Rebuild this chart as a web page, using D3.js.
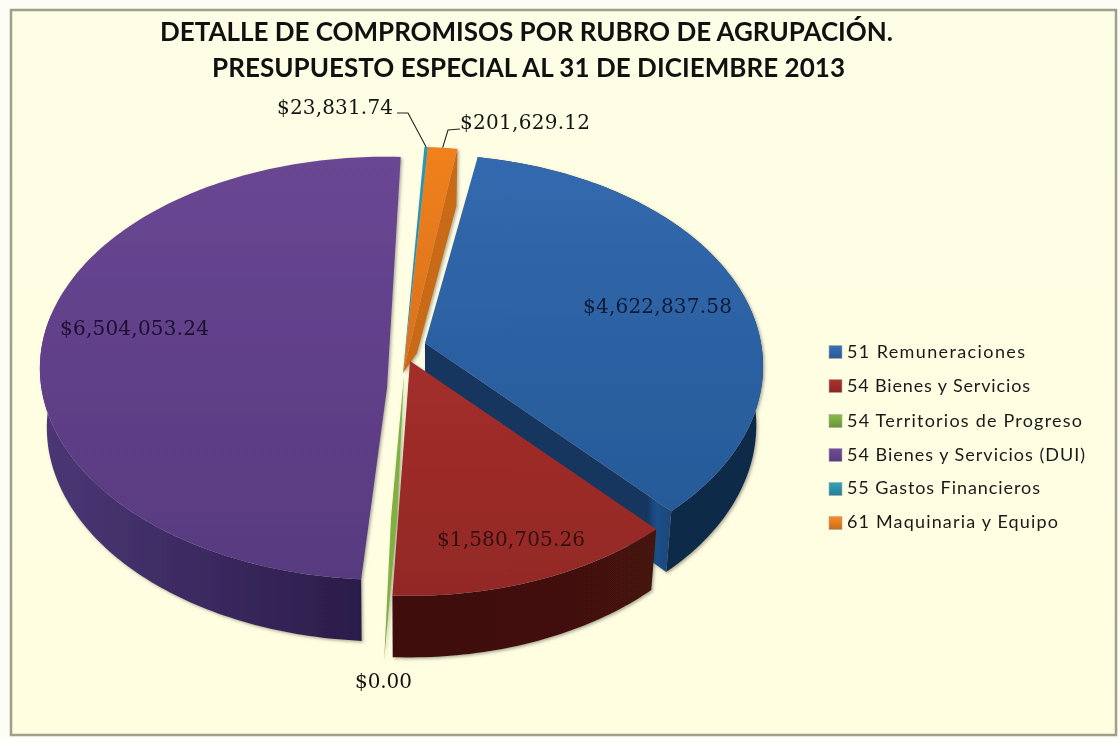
<!DOCTYPE html>
<html><head><meta charset="utf-8">
<script src="https://cdn.jsdelivr.net/npm/d3@7/dist/d3.min.js"></script>
<style>
html,body{margin:0;padding:0;background:#fff;overflow:hidden}
svg{display:block;filter:blur(0.35px)}
</style></head><body><svg id="c" width="1120" height="739"></svg>
<script>
// ---- data ----
const categories = ["51 Remuneraciones","54 Bienes y Servicios","54 Territorios de Progreso","54 Bienes y Servicios (DUI)","55 Gastos Financieros","61 Maquinaria y Equipo"];
const values = [4622837.58,1580705.26,0,6504053.24,23831.74,201629.12];
const titleLines = ["DETALLE DE COMPROMISOS POR RUBRO DE AGRUPACIÓN.","PRESUPUESTO ESPECIAL AL 31 DE DICIEMBRE 2013"];

// ---- style / layout ----
const topColors  = [["#3269ae","#265a98"],["#a32e2a","#932825"],["#7fb040","#6f9c36"],["#6a4693","#573a7f"],["#2f98b0","#27879e"],["#f0811f","#d9701a"]];
const wallColors = [["#12294a","#10294a"],["#3f0f0c","#45120e"],["#6f9c36","#6f9c36"],["#4c3776","#2b1c4a"],["#1f6f80","#1f6f80"],["#c96a14","#c96a14"]];
const apexTop = [[425,343],[410,361],[395,364],[386,345],[410,335],[410,335]]; // centre of the perspective disc per exploded slice
const radiusX = [336,336,336,344,336,336];
const nudgeStart = [1,0,0,2,0,0], nudgeEnd = [0,1,0,0,0,0]; // perspective fudge, degrees
const labelBox = [[583,732,313],[437,585,546],[355,412,688],[60,209,335],[277,393,114],[460,590,129]];
const labelFill = ["#0e1c38","#341010","#111","#1a1030","#151515","#151515"];
const legendWidth = [178,183,235,238,193,211];
const legendBase = [358,392,427,461,494,528];
const legendMid = [352,386,421,455,489,523];
const k=0.11, Ry=209, H=59, shrink=0.98, deg=Math.PI/180;

const svg=d3.select("#c");
const defs=svg.append("defs");
const sh=defs.append("filter").attr("id","sh").attr("x","-10%").attr("y","-10%").attr("width","120%").attr("height","120%");
sh.append("feDropShadow").attr("dx",1.5).attr("dy",1.5).attr("stdDeviation",1.5).attr("flood-color","#6b6b5a").attr("flood-opacity",0.55);

function grad(id,c0,c1,horizontal,stops){
  const g=defs.append("linearGradient").attr("id",id).attr("x1",0).attr("y1",0).attr("x2",horizontal?1:0).attr("y2",horizontal?0:1);
  (stops||[[0,c0],[1,c1]]).forEach(s=>g.append("stop").attr("offset",s[0]).attr("stop-color",s[1]));
  return `url(#${id})`;
}

// background frame
svg.append("rect").attr("width",1120).attr("height",739).attr("fill","#fdfdf6");
svg.append("rect").attr("x",11).attr("y",10).attr("width",1105).attr("height",725)
  .attr("fill",grad("bg","#fefee6","#fffee0")).attr("stroke","#a0a08a").attr("stroke-width",2.5);

// title
const titleBox=[[160,733,41],[212,633,77]];
svg.selectAll("text.t").data(titleLines).join("text").attr("class","t")
  .attr("x",(d,i)=>titleBox[i][0]).attr("y",(d,i)=>titleBox[i][2])
  .attr("textLength",(d,i)=>titleBox[i][1]).attr("lengthAdjust","spacing")
  .attr("font-family","Lato, 'Open Sans', sans-serif").attr("font-size",26).attr("font-weight",700)
  .attr("fill","#111").text(d=>d);

// pie
const pie=d3.pie().sort(null).startAngle(9*deg).endAngle(369*deg);
const arcs=pie(values);
function P(i,a,level){
  const [tx,ty]=apexTop[i];
  const s=1/(1+k*Math.cos(a)), sc=level?shrink:1;
  return [tx+sc*radiusX[i]*Math.sin(a)*s, ty-sc*Ry*Math.cos(a)*s+(level?H*s:0)];
}
function arcPts(i,a0,a1,level){
  const n=Math.max(1,Math.ceil(Math.abs(a1-a0)/deg));
  return d3.range(n+1).map(j=>P(i,a0+(a1-a0)*j/n,level));
}
const line=d3.line();
const slice=svg.append("g").attr("filter","url(#sh)");

function drawSlice(i){
  const d=arcs[i], a0=d.startAngle+nudgeStart[i]*deg, a1=d.endAngle+nudgeEnd[i]*deg;
  const gg=slice.append("g");
  const top=arcPts(i,a0,a1,0);
  const wallEnd=i===3?a0+95*deg:a1;
  const wTop=arcPts(i,a0,wallEnd,0), wBot=arcPts(i,a0,wallEnd,1);
  const tc=topColors[i], wc=wallColors[i];
  if(i===0){
    const e=P(i,a1,0), eb=P(i,a1,1), t=apexTop[i];
    gg.append("path").attr("d",line([t,[t[0],t[1]+H],eb,e])+"Z")
      .attr("fill",grad("end0",null,null,true,[[0,"#16365f"],[0.9,"#16365f"],[0.94,"#1f4f88"],[1,"#1d4778"]]));
  }
  if(i===0||i===1||i===3){
    gg.append("path").attr("d",line(wTop.concat(wBot.slice().reverse()))+"Z")
      .attr("fill",grad("w"+i,wc[0],wc[1],true));
    const t=i===3?[387,388]:apexTop[i];
    gg.append("path").attr("d",line([t].concat(top))+"Z").attr("fill",grad("t"+i,tc[0],tc[1]));
  }
  if(i===2){
    const t=[404,375], b=P(i,a0,1), m=[t[0]+(b[0]-t[0])*0.5,t[1]+(b[1]-t[1])*0.5];
    gg.append("path").attr("d",line([t,[m[0]-3,m[1]],b,[m[0]+3,m[1]]])+"Z").attr("fill",tc[0]);
  }
  if(i===4||i===5){
    const t=[403,373];
    if(i===5){
      const e=P(i,a1,0), eb=P(i,a1,1);
      gg.append("path").attr("d",line([t,[417,353],eb,e])+"Z").attr("fill",wc[0]);
    }
    gg.append("path").attr("d",line([t].concat(top))+"Z").attr("fill",grad("t"+i,tc[0],tc[1]));
  }
}
// far slices first so the near ones lap over them
[5,4,0,1,2,3].forEach(drawSlice);

// data labels
svg.selectAll("text.v").data(values).join("text").attr("class","v")
  .attr("x",(d,i)=>labelBox[i][0]).attr("y",(d,i)=>labelBox[i][2])
  .attr("textLength",(d,i)=>labelBox[i][1]-labelBox[i][0]).attr("lengthAdjust","spacing")
  .attr("font-family","'DejaVu Serif', serif").attr("font-size",20)
  .attr("fill",(d,i)=>labelFill[i]).text(d3.format("$,.2f"));

// leader lines
const leadStart=[[397,113],[460,129]], leadElbow=[[408,113],[448,130]];
[4,5].forEach((i,n)=>{
  const d=arcs[i], e=P(i,(d.startAngle+d.endAngle)/2,0);
  svg.append("path").attr("d",line([leadStart[n],leadElbow[n],e])).attr("fill","none").attr("stroke","#222").attr("stroke-width",1.1);
});

// legend
const lg=svg.selectAll("g.l").data(categories).join("g").attr("class","l");
lg.append("rect").attr("x",829).attr("y",(d,i)=>legendMid[i]-6.5).attr("width",13).attr("height",13)
  .attr("stroke","#aaa").attr("stroke-width",0.6)
  .attr("fill",(d,i)=>grad("k"+i,d3.color(topColors[i][0]).brighter(0.2),d3.color(topColors[i][0]).darker(0.5)));
lg.append("text").attr("x",847).attr("y",(d,i)=>legendBase[i])
  .attr("textLength",(d,i)=>legendWidth[i]).attr("lengthAdjust","spacing")
  .attr("font-family","Lato, sans-serif").attr("font-size",18).attr("fill","#1a1a1a").text(d=>d);
</script></body></html>
